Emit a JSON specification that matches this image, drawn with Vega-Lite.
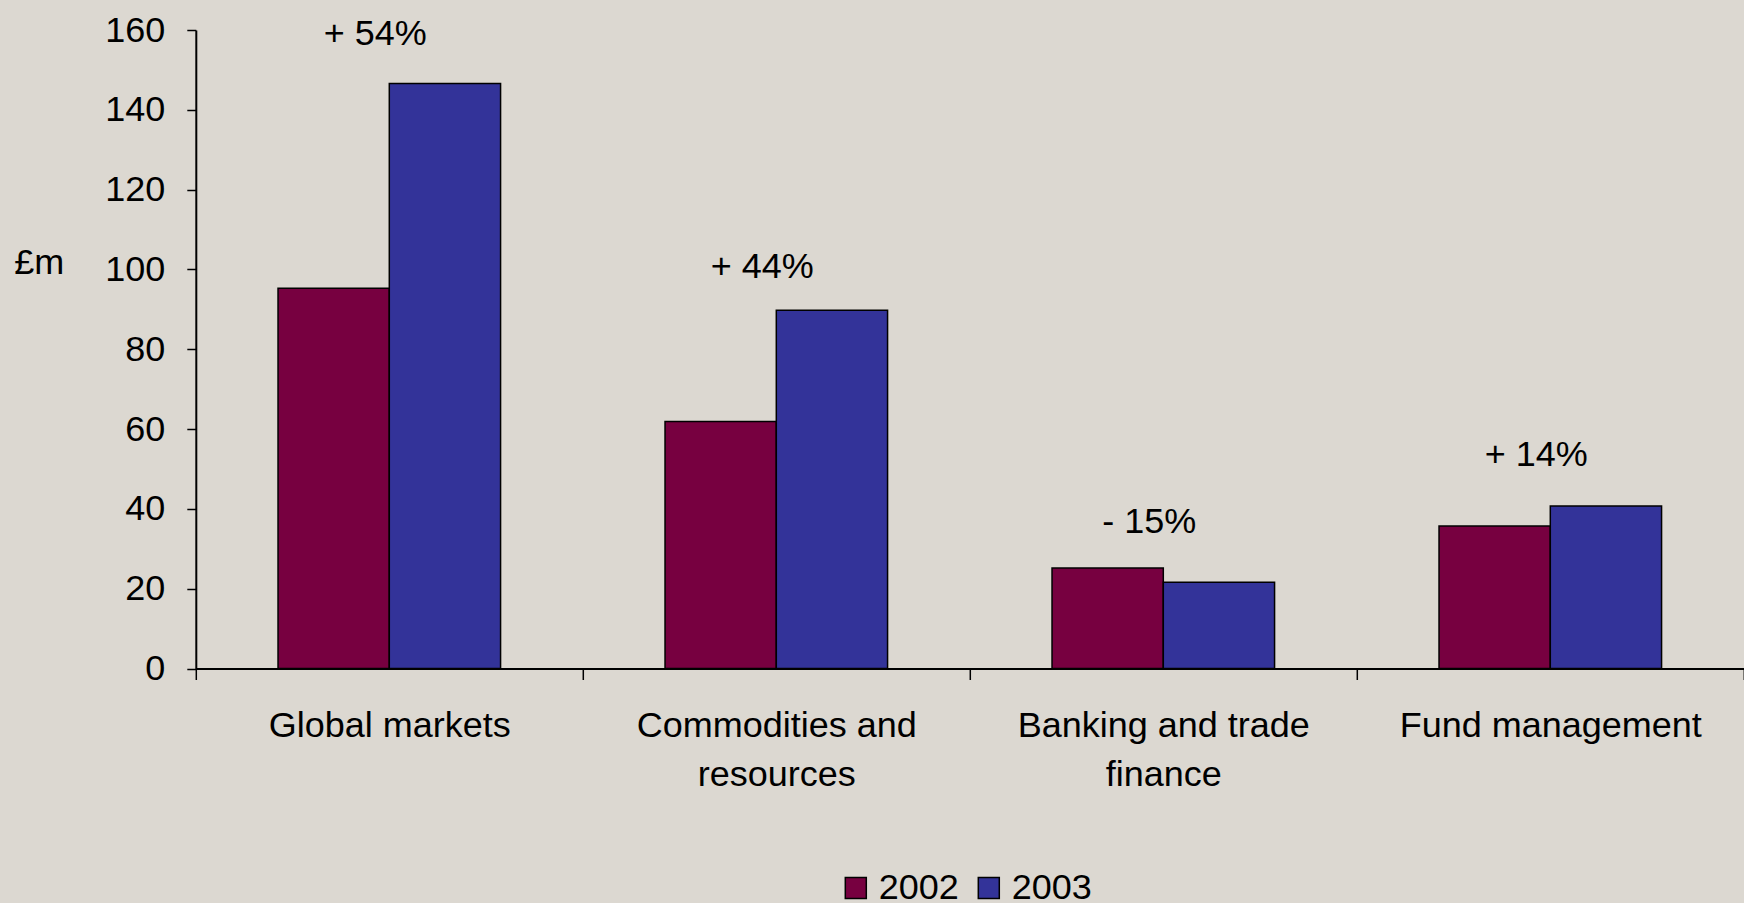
{
  "$schema": "https://vega.github.io/schema/vega-lite/v6.json",
  "width": 1548,
  "height": 638.5,
  "autosize": {"type": "none"},
  "padding": {"left": 195.8, "top": 30, "right": 0, "bottom": 234.5},
  "background": "#DCD8D1",
  "config": {
    "view": {"stroke": null},
    "font": "Liberation Sans",
    "axis": {"labelFont": "Liberation Sans", "titleFont": "Liberation Sans"},
    "legend": {"labelFont": "Liberation Sans"}
  },
  "datasets": {
    "bars": [
      {"segment": "Global markets", "year": "2002", "value": 95.3},
      {"segment": "Global markets", "year": "2003", "value": 146.6},
      {"segment": "Commodities and resources", "year": "2002", "value": 61.9},
      {"segment": "Commodities and resources", "year": "2003", "value": 89.8},
      {"segment": "Banking and trade finance", "year": "2002", "value": 25.2},
      {"segment": "Banking and trade finance", "year": "2003", "value": 21.6},
      {"segment": "Fund management", "year": "2002", "value": 35.7},
      {"segment": "Fund management", "year": "2003", "value": 40.7}
    ],
    "labels": [
      {"segment": "Global markets", "label": "+ 54%", "pos": 158.9},
      {"segment": "Commodities and resources", "label": "+ 44%", "pos": 100.6},
      {"segment": "Banking and trade finance", "label": "- 15%", "pos": 36.8},
      {"segment": "Fund management", "label": "+ 14%", "pos": 53.5}
    ]
  },
  "layer": [
    {
      "data": {"name": "bars"},
      "mark": {"type": "bar", "stroke": "black", "strokeWidth": 1.5},
      "encoding": {
        "x": {
          "field": "segment",
          "type": "nominal",
          "sort": null,
          "scale": {"paddingInner": 0, "paddingOuter": 0},
          "axis": {
            "title": null,
            "tickBand": "extent",
            "domainColor": "black",
            "domainWidth": 2,
            "tickColor": "black",
            "tickSize": 11,
            "tickWidth": 1.5,
            "labelFontSize": 36,
            "labelColor": "black",
            "labelAngle": 0,
            "labelLimit": 0,
            "labelPadding": 29,
            "labelBaseline": "top",
            "labelLineHeight": 49,
            "labelExpr": "datum.label == 'Commodities and resources' ? ['Commodities and', 'resources'] : datum.label == 'Banking and trade finance' ? ['Banking and trade', 'finance'] : datum.label"
          }
        },
        "xOffset": {
          "field": "year",
          "type": "nominal",
          "scale": {"paddingInner": 0, "paddingOuter": 0.739}
        },
        "y": {
          "field": "value",
          "type": "quantitative",
          "scale": {"domain": [0, 160], "nice": false},
          "axis": {
            "title": "£m",
            "titleAngle": 0,
            "titleX": -157,
            "titleY": 232.5,
            "titleAlign": "center",
            "titleBaseline": "middle",
            "titleFontSize": 36,
            "titleFontWeight": "normal",
            "titleColor": "black",
            "values": [0, 20, 40, 60, 80, 100, 120, 140, 160],
            "grid": false,
            "domainColor": "black",
            "domainWidth": 2,
            "tickColor": "black",
            "tickSize": 9,
            "tickWidth": 1.5,
            "labelPadding": 22,
            "labelFontSize": 36,
            "labelColor": "black"
          }
        },
        "color": {
          "field": "year",
          "type": "nominal",
          "scale": {"domain": ["2002", "2003"], "range": ["#770040", "#333399"]},
          "legend": {
            "title": null,
            "orient": "none",
            "direction": "horizontal",
            "legendX": 642,
            "legendY": 840,
            "padding": 0,
            "symbolType": "square",
            "symbolSize": 441,
            "symbolStrokeColor": "black",
            "symbolStrokeWidth": 1.5,
            "symbolOpacity": 1,
            "labelFontSize": 36,
            "labelColor": "black",
            "labelOffset": 5,
            "columnPadding": 11
          }
        }
      }
    },
    {
      "data": {"name": "labels"},
      "mark": {"type": "text", "fontSize": 36, "dx": -14, "baseline": "middle", "color": "black"},
      "encoding": {
        "x": {"field": "segment", "type": "nominal", "sort": null},
        "y": {"field": "pos", "type": "quantitative"},
        "text": {"field": "label"}
      }
    }
  ]
}
